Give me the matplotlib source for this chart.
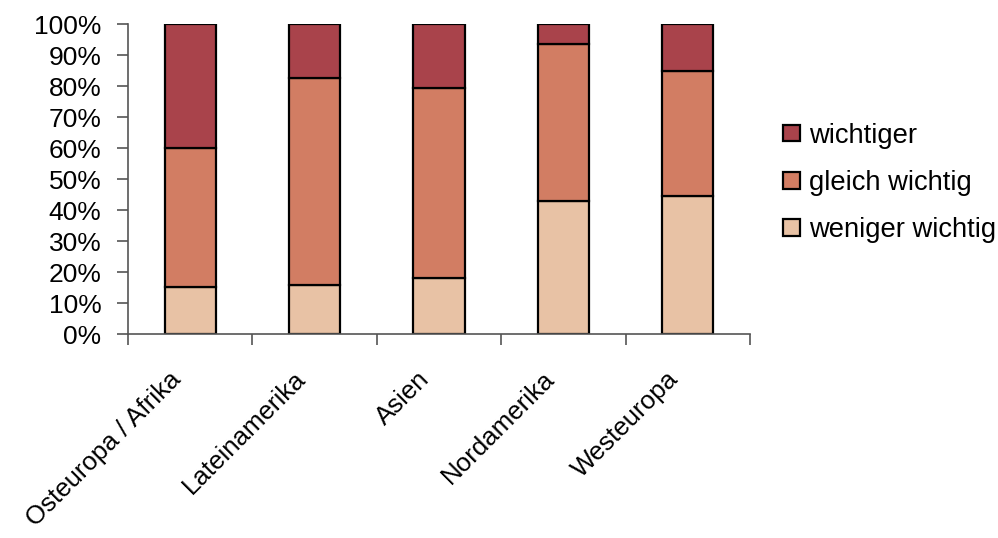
import matplotlib
matplotlib.use("Agg")
import matplotlib.pyplot as plt
import matplotlib.transforms as mtrans
import numpy as np

plt.rcParams['font.family'] = ['Liberation Sans', 'DejaVu Sans']

regions = ["Osteuropa / Afrika", "Lateinamerika", "Asien", "Nordamerika", "Westeuropa"]
weniger_wichtig = [15.1, 16.0, 18.0, 43.1, 44.5]
gleich_wichtig = [45.0, 66.5, 61.3, 50.6, 40.4]
wichtiger = [39.9, 17.5, 20.7, 6.3, 15.1]
series_names = ["weniger wichtig", "gleich wichtig", "wichtiger"]
colors = ["#E8C2A5", "#D27D63", "#A9434B"]

fig = plt.figure(figsize=(9.98, 5.38), dpi=100)
ax = fig.add_axes([128/998, 1-334.3/538, (750-128)/998, (334.3-24)/538])

x = np.arange(len(regions))
bottom = np.zeros(len(regions))
handles = []
for vals, name, col in zip([weniger_wichtig, gleich_wichtig, wichtiger], series_names, colors):
    v = np.array(vals) / 100.0
    h = ax.bar(x, v, 0.41, bottom=bottom, color=col, edgecolor='black', linewidth=1.6, label=name)
    handles.append(h)
    bottom = bottom + v

ax.set_xlim(-0.5, len(regions) - 0.5)
ax.set_ylim(0, 1)
ax.set_yticks(np.arange(0, 1.01, 0.1))
ax.set_yticklabels([f"{int(round(t*100))}%" for t in np.arange(0, 1.01, 0.1)], fontsize=19)
ax.set_xticks(np.arange(-0.5, len(regions), 1.0))
ax.set_xticklabels([])

for s in ['top', 'right']:
    ax.spines[s].set_visible(False)
for s in ['left', 'bottom']:
    ax.spines[s].set_color('#555555')
    ax.spines[s].set_linewidth(1.2)
ax.tick_params(axis='both', direction='out', length=8, width=1.2, color='#555555')
ax.tick_params(axis='y', pad=11)

trans = ax.get_xaxis_transform() + mtrans.ScaledTranslation(-8/100, -46/100, fig.dpi_scale_trans)
for xi, lab in zip(x, regions):
    ax.text(xi, 0, lab, transform=trans, rotation=45, ha='right', va='baseline',
            rotation_mode='anchor', fontsize=18.6)

leg = fig.legend(handles[::-1], series_names[::-1], loc='center left',
                 bbox_to_anchor=(783/998, 1-183/538), frameon=False, fontsize=19.7,
                 handlelength=0.62, handleheight=0.55, handletextpad=0.33,
                 labelspacing=0.78, borderpad=0, borderaxespad=0)

fig.savefig("out.png", dpi=100)
